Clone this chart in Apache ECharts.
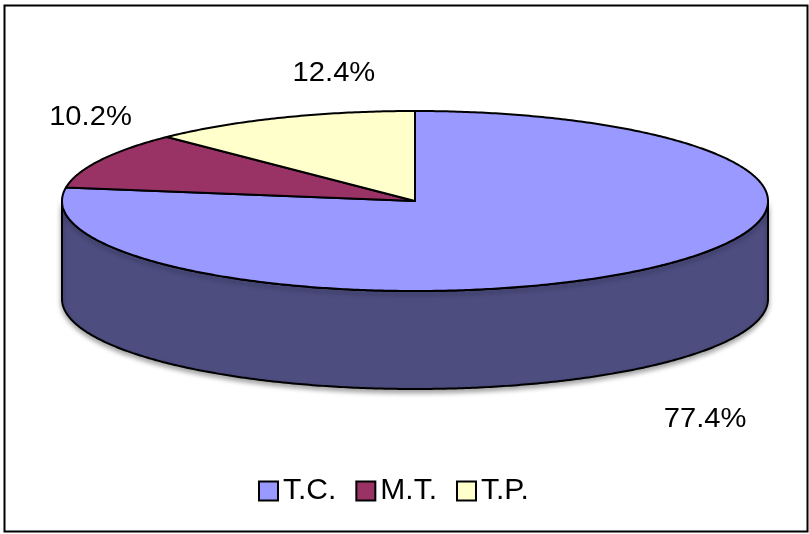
<!DOCTYPE html>
<html>
<head>
<meta charset="utf-8">
<script src="https://cdn.jsdelivr.net/npm/echarts@6/dist/echarts.min.js"></script>
<style>
  html, body { margin: 0; padding: 0; background: #fff; }
  #chart { width: 809px; height: 534px; }
</style>
</head>
<body>
<div id="chart"></div>
<script>
// Slice names and their shares (percent)
const categories = ['T.C.', 'M.T.', 'T.P.'];
const shares = [77.4, 10.2, 12.4];

// Face colours: top surface and darker outer wall
const topColors = ['#9999ff', '#993366', '#ffffcc'];
const sideColors = ['#4d4d80', '#4d1a33', '#808066'];

// Tilted-disc geometry (pixels)
const CX = 415, CY = 201, RX = 353, RY = 90, DEPTH = 98;
// Label nudges from each slice's rim point
const labelOffsets = [[60, 52], [-10, -43], [53, -44]];

const total = shares.reduce((a, b) => a + b, 0);
const cumulative = [];
shares.reduce((acc, v) => { cumulative.push([acc, acc + v]); return acc + v; }, 0);

function rimPoint(a, dy) {
  return [CX + RX * Math.sin(a), CY - RY * Math.cos(a) + (dy || 0)];
}
function arc(from, to, dy) {
  const n = Math.max(2, Math.ceil(Math.abs(to - from) / 0.01));
  const out = [];
  for (let k = 0; k <= n; k++) out.push(rimPoint(from + (to - from) * k / n, dy));
  return out;
}

function makeRender(i) {
  return function (params, api) {
    const a0 = api.value(0) / total * 2 * Math.PI;
    const a1 = api.value(1) / total * 2 * Math.PI;
    const children = [];
    // visible front wall: angles between 3 and 9 o'clock (clockwise from top)
    const s0 = Math.max(a0, Math.PI / 2), s1 = Math.min(a1, 3 * Math.PI / 2);
    if (s1 > s0) {
      children.push({
        type: 'polygon', z2: 1,
        shape: { points: arc(s0, s1, 0).concat(arc(s1, s0, DEPTH)) },
        style: { fill: sideColors[i], stroke: '#000', lineWidth: 2, lineJoin: 'round',
                 shadowBlur: 5, shadowOffsetY: 3, shadowColor: 'rgba(0,0,0,0.35)' }
      });
    }
    children.push({
      type: 'polygon', z2: 2,
      shape: { points: [[CX, CY]].concat(arc(a0, a1, 0)) },
      style: { fill: topColors[i], stroke: '#000', lineWidth: 2, lineJoin: 'round' }
    });
    const mid = (a0 + a1) / 2;
    const anchor = rimPoint(mid, Math.cos(mid) < 0 ? DEPTH : 0);
    children.push({
      type: 'text', z2: 3,
      x: anchor[0] + labelOffsets[i][0],
      y: anchor[1] + labelOffsets[i][1],
      scaleX: 1.08,
      style: {
        text: shares[i].toFixed(1) + '%',
        fontFamily: 'Liberation Sans', fontSize: 27, fill: '#000',
        align: 'center', verticalAlign: 'middle'
      }
    });
    return { type: 'group', children: children };
  };
}

const chart = echarts.init(document.getElementById('chart'), null, { renderer: 'canvas' });
chart.setOption({
  animation: false,
  backgroundColor: '#ffffff',
  graphic: [{
    type: 'rect', z: -10,
    shape: { x: 4.5, y: 5.5, width: 803, height: 526 },
    style: { fill: 'transparent', stroke: '#000', lineWidth: 2 }
  }],
  legend: {
    data: categories,
    left: 253, top: 471,
    icon: 'rect', itemWidth: 19, itemHeight: 19, itemGap: 19,
    itemStyle: { borderColor: '#000', borderWidth: 2 },
    textStyle: { fontFamily: 'Liberation Sans', fontSize: 30, color: '#000' }
  },
  series: categories.map((name, i) => ({
    type: 'custom',
    name: name,
    coordinateSystem: 'none',
    itemStyle: { color: topColors[i] },
    silent: true,
    data: [cumulative[i]],
    renderItem: makeRender(i)
  }))
});
</script>
</body>
</html>
